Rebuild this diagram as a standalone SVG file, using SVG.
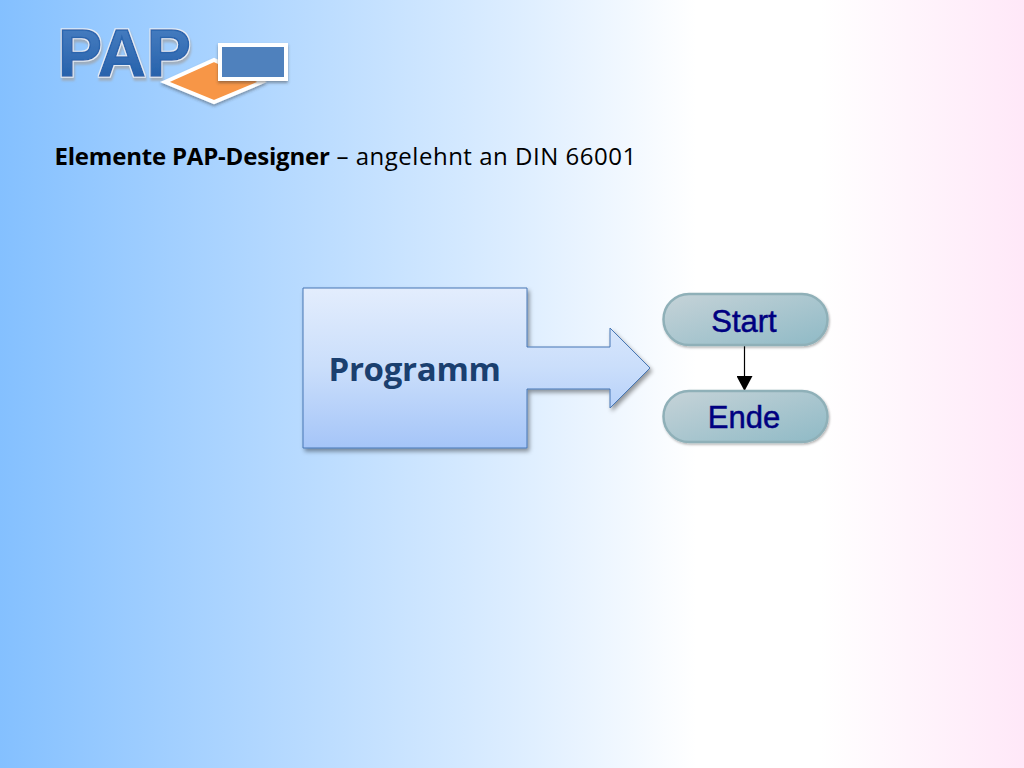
<svg xmlns="http://www.w3.org/2000/svg" width="1024" height="768" viewBox="0 0 1024 768">
<style>
.flow{fill:url(#fl);stroke:#8fb0b8;stroke-width:2.5;filter:url(#sh2)}
.flowt{font-family:"Liberation Sans",Arial,sans-serif;font-size:31px;fill:#000080;stroke:#000080;stroke-width:.5;text-anchor:middle}
.big{fill:url(#bl);stroke:#4677b5;stroke-width:1;filter:url(#sh)}
</style>
<defs>
<linearGradient id="bg" x1="0" y1="0" x2="1" y2="0">
<stop offset="0" stop-color="#84c0ff"/><stop offset="0.3" stop-color="#b9dbff"/><stop offset="0.5" stop-color="#dcedff"/><stop offset="0.68" stop-color="#ffffff"/><stop offset="0.8" stop-color="#ffffff"/><stop offset="1" stop-color="#ffe8f8"/>
</linearGradient>
<linearGradient id="bl" gradientUnits="userSpaceOnUse" x1="0" y1="288" x2="0" y2="448">
<stop offset="0" stop-color="#e3edfd"/><stop offset="0.5" stop-color="#cadefb"/><stop offset="1" stop-color="#a5c5f8"/>
</linearGradient>
<linearGradient id="fl" x1="0" y1="0" x2="1" y2="1">
<stop offset="0" stop-color="#c6d3d8"/><stop offset="1" stop-color="#8fbac6"/>
</linearGradient>
<linearGradient id="pap" x1="0" y1="0" x2="0" y2="1">
<stop offset="0" stop-color="#4c82c4"/><stop offset="1" stop-color="#1f5ba6"/>
</linearGradient>
<filter id="sh" x="-10%" y="-10%" width="125%" height="125%"><feDropShadow dx="2" dy="3" stdDeviation="2" flood-color="#000" flood-opacity="0.4"/></filter>
<filter id="sh2" x="-10%" y="-10%" width="120%" height="130%"><feDropShadow dx="1" dy="1.5" stdDeviation="0.8" flood-color="#000" flood-opacity="0.3"/></filter>
<filter id="sh3" x="-20%" y="-20%" width="140%" height="150%"><feDropShadow dx="0" dy="2" stdDeviation="1.5" flood-color="#333" flood-opacity="0.45"/></filter>
<filter id="bevel" x="-10%" y="-10%" width="120%" height="130%">
<feMorphology in="SourceAlpha" operator="dilate" radius="1.300" result="d"/>
<feFlood flood-color="#e4ecf5"/>
<feComposite in2="d" operator="in" result="ring"/>
<feOffset in="d" dx="1" dy="3"/>
<feGaussianBlur stdDeviation="1.200"/>
<feColorMatrix values="0 0 0 0 .35 0 0 0 0 .38 0 0 0 0 .42 0 0 0 .8 0" result="shadow"/>
<feMerge><feMergeNode in="shadow"/><feMergeNode in="ring"/><feMergeNode in="SourceGraphic"/></feMerge>
</filter>
<marker id="arr" markerUnits="userSpaceOnUse" markerWidth="16" markerHeight="16" refX="15" refY="8" orient="auto"><path d="M0,0L15,8L0,16Z" fill="#000"/></marker>
</defs>
<rect id="background" width="1024" height="768" fill="url(#bg)"/>
<g id="logo">
<text x="58" y="76" font-family="'Liberation Sans',Arial,sans-serif" font-weight="700" font-size="66" letter-spacing="1" fill="url(#pap)" stroke="#2a65ae" stroke-width="1.500" filter="url(#bevel)">PAP</text>
<path d="M165,82L214,60L262,82L214,102Z" fill="#f79646" stroke="#fff" stroke-width="4" stroke-linejoin="miter" filter="url(#sh3)"/>
<rect x="220" y="45" width="66" height="34" fill="#4f81bd" stroke="#fff" stroke-width="4" filter="url(#sh3)"/>
</g>
<text id="title" x="54.500" y="165" font-family="'Open Sans',Lato,sans-serif" font-size="24" fill="#000"><tspan font-weight="700" letter-spacing="-0.200">Elemente PAP-Designer</tspan><tspan letter-spacing="0.520"> – angelehnt an DIN 66001</tspan></text>
<g id="programm">
<path class="big" d="M303,288H527V347H610V328L650,368L610,408V389H527V448H303Z"/>
<text x="328.500" y="381" font-family="'Open Sans',Lato,sans-serif" font-weight="700" font-size="33" letter-spacing="-0.300" fill="#1a3f6f">Programm</text>
</g>
<g id="connectors">
<line x1="744.500" y1="345" x2="744.500" y2="391" stroke="#000" stroke-width="1.200" marker-end="url(#arr)"/>
</g>
<g id="start">
<rect class="flow" x="663.500" y="294" width="164" height="51" rx="25.500"/>
<text class="flowt" x="744" y="332">Start</text>
</g>
<g id="ende">
<rect class="flow" x="663.500" y="391" width="164" height="51" rx="25.500"/>
<text class="flowt" x="744" y="428">Ende</text>
</g>
</svg>
